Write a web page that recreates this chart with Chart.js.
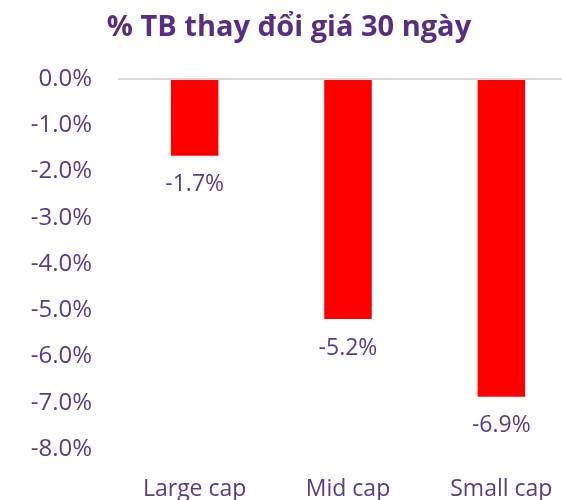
<!DOCTYPE html>
<html>
<head>
<meta charset="utf-8">
<script src="https://cdn.jsdelivr.net/npm/chart.js@4"></script>
<style>
  html, body { margin: 0; padding: 0; background: #fff; overflow: hidden; }
  #chart { display: block; }
</style>
</head>
<body>
<canvas id="chart" width="606" height="520"></canvas>
<script>
// ===== DATA =====
const categories = ["Large cap", "Mid cap", "Small cap"];
const values = [-1.66, -5.19, -6.87];
const yTicks = [0, -1, -2, -3, -4, -5, -6, -7, -8];

const purple = "#5a3d87";
const fontFam = "'Open Sans'";

// nhãn giá trị dưới mỗi cột
const valueLabels = {
  id: "valueLabels",
  afterDatasetsDraw(chart) {
    const ctx = chart.ctx;
    const meta = chart.getDatasetMeta(0);
    ctx.save();
    ctx.font = "23px " + fontFam;
    ctx.fillStyle = purple;
    ctx.textAlign = "center";
    ctx.textBaseline = "middle";
    meta.data.forEach((bar, i) => {
      ctx.fillText(values[i].toFixed(1) + "%", bar.x, bar.y + 29);
    });
    ctx.restore();
  }
};

new Chart(document.getElementById("chart"), {
  type: "bar",
  data: {
    labels: categories,
    datasets: [{
      data: values,
      backgroundColor: "#ff0000",
      barPercentage: 0.31,
      categoryPercentage: 1
    }]
  },
  options: {
    responsive: false,
    animation: false,
    layout: { padding: { left: 0, right: 28, top: 0, bottom: 0 } },
    plugins: {
      legend: { display: false },
      tooltip: { enabled: false },
      title: {
        display: true,
        text: "% TB thay đổi giá 30 ngày",
        color: "#582f80",
        font: { family: fontFam, size: 29, weight: "bold", lineHeight: 1.2 },
        padding: { top: 10, bottom: 34.2 }
      }
    },
    scales: {
      x: {
        grid: { display: false, drawTicks: false },
        border: { display: false },
        ticks: { color: purple, font: { family: fontFam, size: 23 }, padding: 27 },
        afterFit(scale) { scale.height = 71; }
      },
      y: {
        min: -8,
        max: 0,
        afterBuildTicks(scale) { scale.ticks = yTicks.map(v => ({ value: v })); },
        grid: {
          drawTicks: false,
          color: c => c.tick.value === 0 ? "#d9d9d9" : "rgba(0,0,0,0)",
          lineWidth: 2
        },
        border: { display: false },
        ticks: {
          color: purple,
          font: { family: fontFam, size: 24 },
          padding: 26,
          callback: v => v.toFixed(1) + "%"
        },
        afterFit(scale) { scale.width = 118; }
      }
    }
  },
  plugins: [valueLabels]
});
</script>
</body>
</html>
